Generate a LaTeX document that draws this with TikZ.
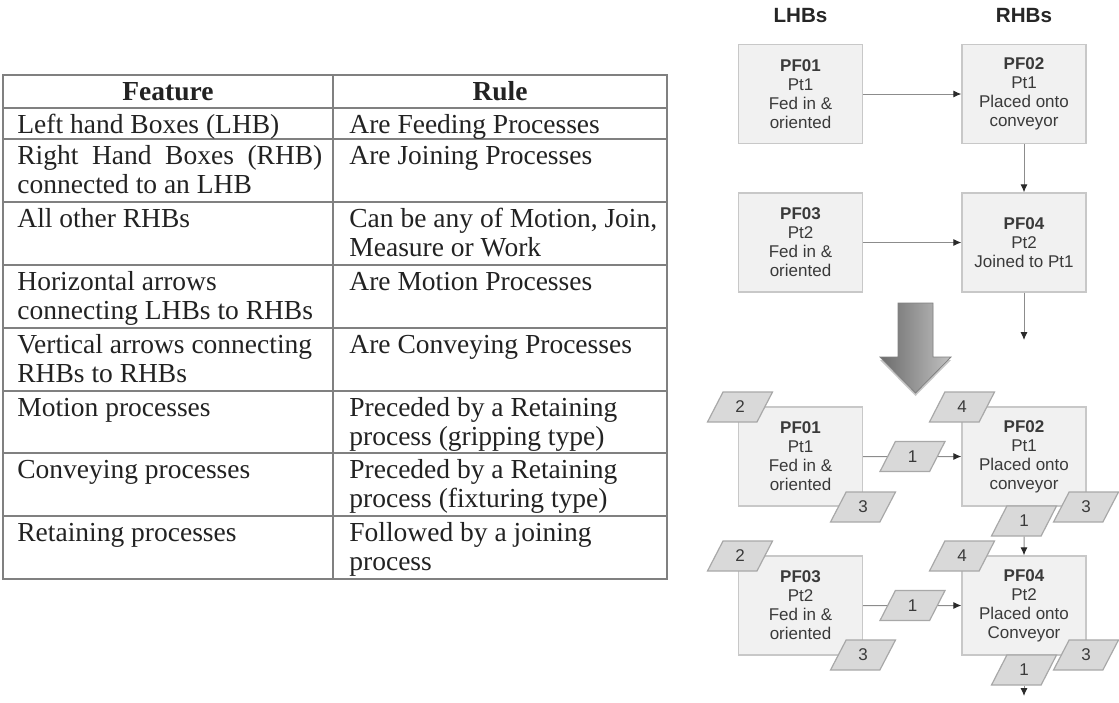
\documentclass[tikz,border=0pt]{standalone}
\usepackage{fontspec}
\setmainfont{Liberation Serif}
\newfontfamily\diafamily{Liberation Sans}
\usetikzlibrary{arrows.meta,shapes.geometric,shadows}

\definecolor{tabline}{HTML}{808080}
\definecolor{tabtext}{HTML}{222222}
\definecolor{boxfill}{HTML}{F1F1F1}
\definecolor{boxline}{HTML}{C8C8C8}
\definecolor{parafill}{HTML}{D9D9D9}
\definecolor{paraline}{HTML}{A8A8A8}
\definecolor{boxtext}{HTML}{3A3A3A}
\definecolor{connline}{HTML}{8C8C8C}
\definecolor{tipcol}{HTML}{2A2A2A}

\newcommand{\tabfont}{\fontsize{13.75pt}{14.5pt}\selectfont}
\newcommand{\diafont}{\diafamily\fontsize{8.5pt}{9.5pt}\selectfont}

\begin{document}
\begin{tikzpicture}[x=0.5pt,y=-0.5pt,
  tabtxt/.style={font=\tabfont, text=tabtext, inner sep=0pt, anchor=base west},
  tabhead/.style={font=\tabfont\bfseries, text=tabtext, inner sep=0pt, anchor=base},
  colhead/.style={font=\diafamily\fontsize{10.3pt}{12pt}\selectfont\bfseries, text=black!85, inner sep=0pt, anchor=base},
  pfbox/.style={draw=boxline, fill=boxfill, line width=0.7pt, minimum width=62pt,
    minimum height=49.5pt, align=center, font=\diafont, text=boxtext, inner sep=0pt},
  numtag/.style={trapezium, trapezium left angle=70, trapezium right angle=110,
    trapezium stretches=true, minimum width=32.5pt, minimum height=15pt,
    draw=paraline, fill=parafill, line width=0.6pt, font=\diafont, text=boxtext, inner sep=0pt},
  conn/.style={draw=connline, line width=0.5pt,
    -{Latex[length=4pt,width=3.6pt,color=tipcol]}},
  plain/.style={draw=connline, line width=0.5pt}
]
\useasboundingbox (0,0) rectangle (1119,702);

% ---------------- rules table ----------------
\draw[tabline, line width=1pt] (3,75) rectangle (667,579);
\draw[tabline, line width=1pt] (333,75) -- (333,579);
\foreach \yy in {108,139,202,265,328,391,453,516}
  \draw[tabline, line width=1pt] (3,\yy) -- (667,\yy);

\node[tabhead] (hf) at (168,100) {Feature};
\node[tabhead] (hr) at (500,100) {Rule};

\node[tabtxt] (f1) at (17,133) {Left hand Boxes (LHB)};
\node[tabtxt] (r1) at (349,133) {Are Feeding Processes};

\node[tabtxt] (f2a) at (17,164) {\makebox[152.5pt][s]{Right Hand Boxes (RHB)}};
\node[tabtxt] (f2b) at (17,193) {connected to an LHB};
\node[tabtxt] (r2) at (349,164) {Are Joining Processes};

\node[tabtxt] (f3) at (17,227) {All other RHBs};
\node[tabtxt] (r3a) at (349,227) {Can be any of Motion, Join,};
\node[tabtxt] (r3b) at (349,256) {Measure or Work};

\node[tabtxt] (f4a) at (17,290) {Horizontal arrows};
\node[tabtxt] (f4b) at (17,319) {connecting LHBs to RHBs};
\node[tabtxt] (r4) at (349,290) {Are Motion Processes};

\node[tabtxt] (f5a) at (17,353) {Vertical arrows connecting};
\node[tabtxt] (f5b) at (17,382) {RHBs to RHBs};
\node[tabtxt] (r5) at (349,353) {Are Conveying Processes};

\node[tabtxt] (f6) at (17,416) {Motion processes};
\node[tabtxt] (r6a) at (349,416) {Preceded by a Retaining};
\node[tabtxt] (r6b) at (349,445) {process (gripping type)};

\node[tabtxt] (f7) at (17,478) {Conveying processes};
\node[tabtxt] (r7a) at (349,478) {Preceded by a Retaining};
\node[tabtxt] (r7b) at (349,507) {process (fixturing type)};

\node[tabtxt] (f8) at (17,541) {Retaining processes};
\node[tabtxt] (r8a) at (349,541) {Followed by a joining};
\node[tabtxt] (r8b) at (349,570) {process};

% ---------------- column headings ----------------
\node[colhead] (lhb) at (800.5,22) {LHBs};
\node[colhead] (rhb) at (1024,22) {RHBs};

% ---------------- upper flow ----------------
\node[pfbox] (t1) at (800.5,94) {\textbf{PF01}\\Pt1\\Fed in \&\\oriented};
\node[pfbox] (t2) at (1024,94) {\textbf{PF02}\\Pt1\\Placed onto\\conveyor};
\node[pfbox] (t3) at (800.5,242.5) {\textbf{PF03}\\Pt2\\Fed in \&\\oriented};
\node[pfbox] (t4) at (1024,242.5) {\textbf{PF04}\\Pt2\\Joined to Pt1};
\coordinate (tout) at (1024,340);

\draw[conn] (t1) -- (t2);
\draw[conn] (t2) -- (t4);
\draw[conn] (t3) -- (t4);
\draw[conn] (t4) -- (tout);

% ---------------- transformation arrow ----------------
\path[left color=black!58, right color=black!24, draw=black!50, line width=0.4pt,
      drop shadow={shadow xshift=0pt, shadow yshift=-1.5pt, opacity=0.22, fill=black}]
  (898,303) -- (933,303) -- (933,357) -- (951,357) -- (915.5,393)
  -- (880,357) -- (898,357) -- cycle;

% ---------------- lower flow ----------------
\node[pfbox] (b1) at (800.5,456.5) {\textbf{PF01}\\Pt1\\Fed in \&\\oriented};
\node[pfbox] (b2) at (1024,456.5) {\textbf{PF02}\\Pt1\\Placed onto\\conveyor};
\node[pfbox] (b3) at (800.5,605.5) {\textbf{PF03}\\Pt2\\Fed in \&\\oriented};
\node[pfbox] (b4) at (1024,605.5) {\textbf{PF04}\\Pt2\\Placed onto\\Conveyor};

% process tags on the box corners
\node[numtag] (b1r) at (740,407) {2};
\node[numtag] (b1f) at (863,507) {3};
\node[numtag] (b2r) at (962,407) {4};
\node[numtag] (b2f) at (1086,507) {3};
\node[numtag] (b3r) at (740,556) {2};
\node[numtag] (b3f) at (863,655) {3};
\node[numtag] (b4r) at (962,556) {4};
\node[numtag] (b4f) at (1086,655) {3};

% process tags on the connectors
\node[numtag] (m1) at (912.5,456.5) {1};
\node[numtag] (m2) at (912.5,605.5) {1};
\node[numtag] (v1) at (1024,521) {1};
\node[numtag] (v2) at (1024,670) {1};
\coordinate (bout) at (1024,696);

\draw[plain] (b1) -- (m1);
\draw[conn] (m1) -- (b2);
\draw[plain] (b3) -- (m2);
\draw[conn] (m2) -- (b4);
\draw[conn] (v1) -- (b4);
\draw[conn] (v2) -- (bout);
\end{tikzpicture}
\end{document}
